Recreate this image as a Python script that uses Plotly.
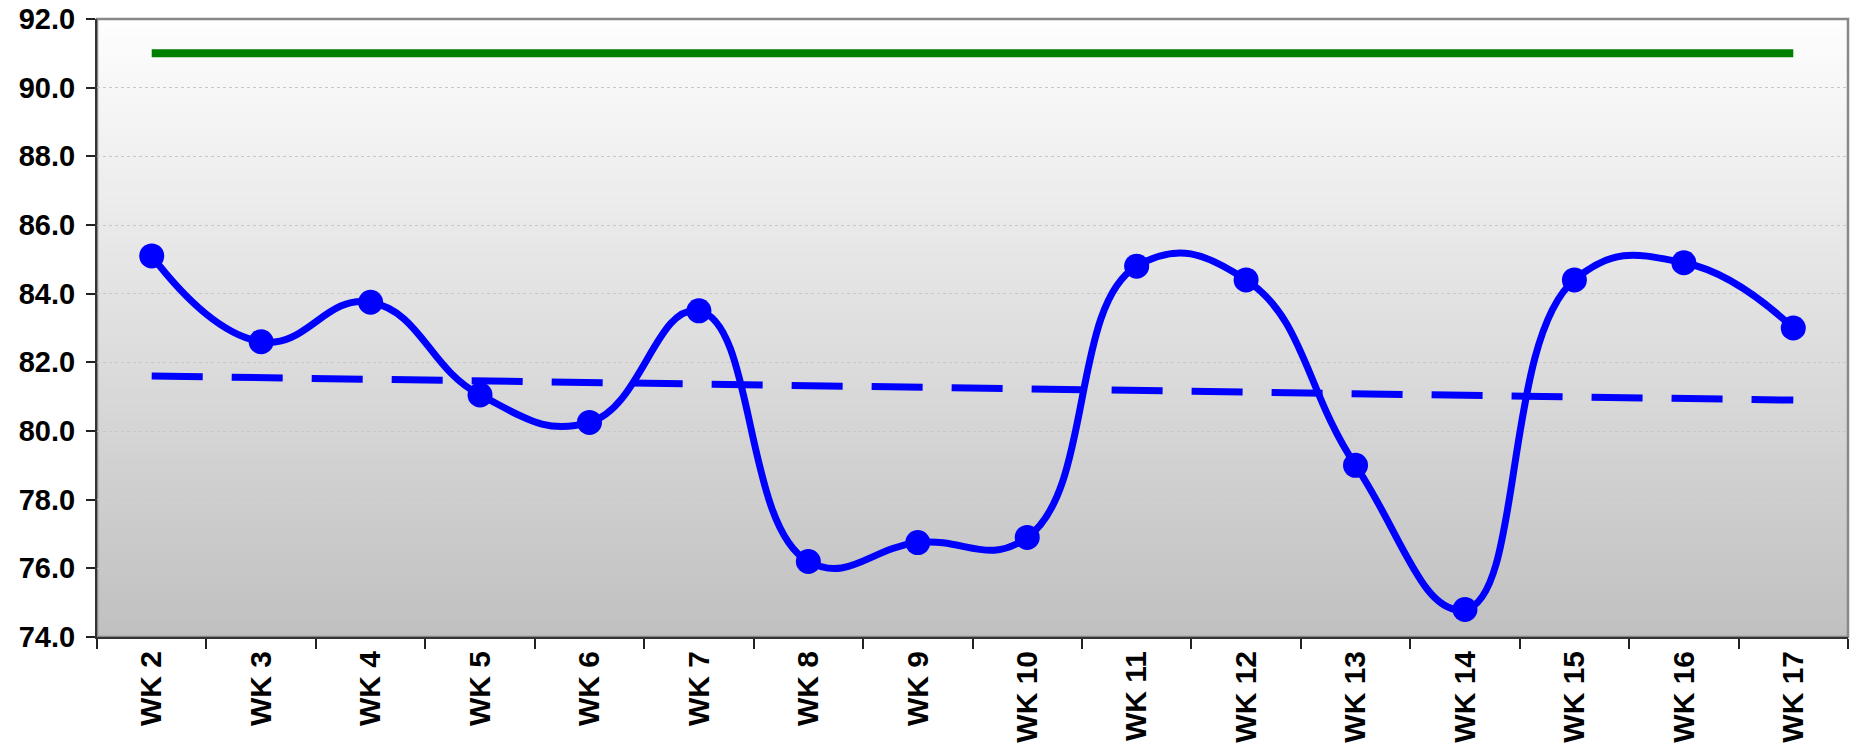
import plotly.graph_objects as go

weeks = ["WK 2", "WK 3", "WK 4", "WK 5", "WK 6", "WK 7", "WK 8", "WK 9",
         "WK 10", "WK 11", "WK 12", "WK 13", "WK 14", "WK 15", "WK 16", "WK 17"]
actual = [85.1, 82.6, 83.75, 81.05, 80.25, 83.5, 76.2, 76.75,
          76.9, 84.8, 84.4, 79.0, 74.8, 84.4, 84.9, 83.0]
trend = [81.60, 81.55, 81.51, 81.46, 81.41, 81.37, 81.32, 81.27,
         81.23, 81.18, 81.13, 81.09, 81.04, 80.99, 80.95, 80.90]
target = [91.0] * 16
y_ticks = [74, 76, 78, 80, 82, 84, 86, 88, 90, 92]

fig = go.Figure()

# gradient background (white at top -> grey at bottom)
n_bands = 80
shapes = []
for i in range(n_bands):
    t0 = i / n_bands
    t1 = (i + 1) / n_bands
    frac = (t0 + t1) / 2
    c = int(round(192 + (254 - 192) * frac))
    shapes.append(dict(type="rect", xref="x domain", yref="y domain",
                       x0=0, x1=1, y0=t0, y1=t1 + 0.002,
                       fillcolor=f"rgb({c},{c},{c})", line=dict(width=0),
                       layer="below"))
shapes.append(dict(type="rect", xref="x domain", yref="y domain",
                   x0=0, x1=1, y0=0, y1=1,
                   line=dict(color="#888888", width=2.5), layer="below"))

fig.add_trace(go.Scatter(x=weeks, y=target, mode="lines",
                         line=dict(color="#008000", width=8),
                         showlegend=False, hoverinfo="skip"))
fig.add_trace(go.Scatter(x=weeks, y=trend, mode="lines",
                         line=dict(color="#0000FF", width=7, dash="51px,29px"),
                         showlegend=False, hoverinfo="skip"))
fig.add_trace(go.Scatter(x=weeks, y=actual, mode="lines+markers",
                         line=dict(color="#0000FF", width=7, shape="spline", smoothing=1.3),
                         marker=dict(color="#0000FF", size=25, line=dict(width=0)),
                         showlegend=False))

fig.update_layout(
    width=1852, height=756,
    margin=dict(l=97, r=4, t=19, b=119),
    paper_bgcolor="white",
    plot_bgcolor="rgba(0,0,0,0)",
    shapes=shapes,
    xaxis=dict(
        type="category", range=[-0.5, 15.5], tickson="boundaries",
        ticks="outside", ticklen=10, tickcolor="#222222", tickwidth=1.5,
        showline=True, linecolor="#333333", linewidth=2,
        showgrid=False, zeroline=False, tickangle=-90,
        ticklabeloverflow="allow", automargin=False,
        tickfont=dict(family="Liberation Sans, Arial", size=30, color="black", weight="bold"),
    ),
    yaxis=dict(
        range=[74, 92], tickvals=y_ticks, tickformat=".1f",
        ticks="outside", ticklen=9, tickcolor="#222222", tickwidth=1.5,
        showline=True, linecolor="#333333", linewidth=2,
        showgrid=True, gridcolor="#c8c8c8", gridwidth=1, griddash="dot",
        zeroline=False, ticklabelstandoff=5, ticklabeloverflow="allow",
        automargin=False,
        tickfont=dict(family="Liberation Sans, Arial", size=29, color="black", weight="bold"),
    ),
)

fig.write_html(
    "out.html",
    config={"displayModeBar": False},
    post_script="document.body.style.margin='0';document.body.style.overflow='hidden';",
)
